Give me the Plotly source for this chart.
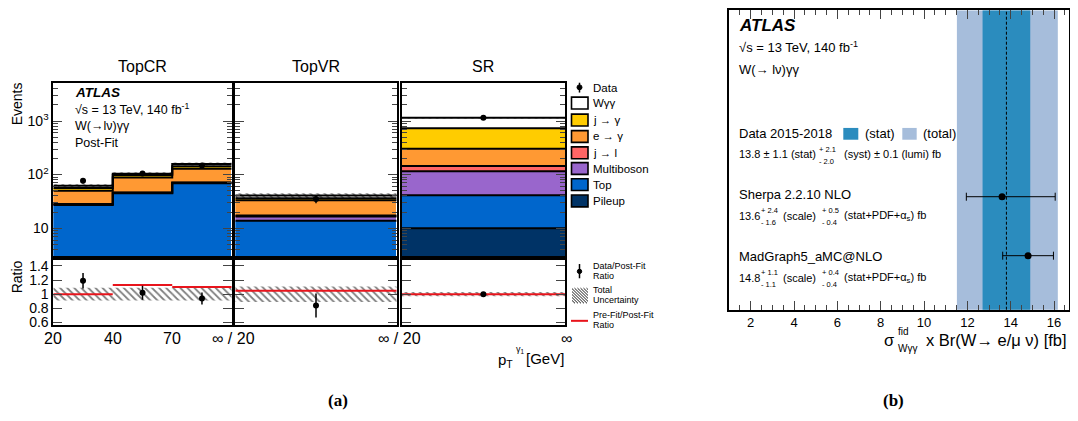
import math
import plotly.graph_objects as go

# the page body has an 8px margin on every side: map reference pixels into the figure box
OFF = 8
W, H = 1078 - 2 * OFF, 421 - 2 * OFF
def px(x): return min(1.0, max(0.0, (x - OFF) / W))
def py(y): return min(1.0, max(0.0, 1 - (y - OFF) / H))

# ---------------- data: panel (a) ----------------
region_names = ["TopCR", "TopVR", "SR"]
region_bins = [[0, 1, 2], [3], [4]]          # indices into the 5-bin arrays below
bin_labels = ["TopCR 20-40", "TopCR 40-70", "TopCR 70-inf", "TopVR 20-inf", "SR 20-inf"]

pileup     = [0.5, 0.8, 1.0, 0.5, 10.0]
top        = [26.5, 44.0, 68.0, 13.2, 31.0]
multiboson = [0.8, 1.0, 1.5, 2.8, 74.0]
j_to_l     = [0.3, 0.4, 0.5, 0.7, 30.0]
e_to_gamma = [22.0, 42.0, 58.0, 16.0, 160.0]
j_to_gamma = [6.0, 10.0, 14.0, 3.0, 430.0]
w_gg       = [6.0, 6.0, 15.0, 4.5, 415.0]
data_evts  = [77, 105, 148, 35, 1150]
main_unc   = [0.06, 0.06, 0.06, 0.10, 0.03]

ratio_data     = [1.19, 1.02, 0.94, 0.84, 1.0]
ratio_data_err = [0.11, 0.10, 0.085, 0.17, 0.02]
ratio_prefit   = [1.0, 1.13, 1.10, 1.05, 1.0]
ratio_unc      = [0.09, 0.09, 0.09, 0.11, 0.03]

stack_names = ["Pileup", "Top", "Multiboson", "j → l", "e → γ", "j → γ", "Wγγ"]
stack_vals = [pileup, top, multiboson, j_to_l, e_to_gamma, j_to_gamma, w_gg]
stack_colors = ["#003366", "#0066cc", "#9966cc", "#ff6666", "#ff9933", "#ffcc00", "#ffffff"]

edge_labels_cr = ["20", "40", "70"]

# ---------------- data: panel (b) ----------------
meas = 13.8
meas_stat = 1.1
meas_syst_up, meas_syst_dn = 2.1, 2.0
meas_lumi = 0.1
models = ["Sherpa 2.2.10 NLO", "MadGraph5_aMC@NLO"]
model_pred = [13.6, 14.8]
model_scale_up = [2.4, 1.1]
model_scale_dn = [1.6, 1.1]
model_pdf_up = [0.5, 0.4]
model_pdf_dn = [0.4, 0.4]
model_rows = [2, 1]

FONT = "Liberation Sans"
fig = go.Figure()

# domains (reference pixels)
xdoms = [(53.3, 231.7), (235.3, 396.7), (401.7, 565.0)]
main_y = (82.3, 258.3)
ratio_y = (262.3, 329.0)

HATCH_MAIN = dict(shape="\\", fgcolor="black", size=5, solidity=0.35, fillmode="overlay")
HATCH_RATIO = dict(shape="\\", fgcolor="black", size=5, solidity=0.35, fillmode="overlay")

for r, (name, idx) in enumerate(zip(region_names, region_bins)):
    xa = "x" if r == 0 else f"x{r+1}"
    ya = "y" if r == 0 else f"y{r+1}"
    xr = f"x{r+4}"
    yr = f"y{r+4}"
    n = len(idx)
    centers = [i + 0.5 for i in range(n)]
    edges = list(range(n + 1))
    cum = [0.0] * n
    for sname, vals, col in zip(stack_names, stack_vals, stack_colors):
        fig.add_trace(go.Bar(x=centers, y=[vals[i] for i in idx], width=1,
                             marker=dict(color=col, line=dict(width=0)),
                             name=sname, showlegend=False, xaxis=xa, yaxis=ya))
    # outline of each stacked layer as a step line (ROOT-like)
    for vals in stack_vals:
        cum = [c + vals[i] for c, i in zip(cum, idx)]
        fig.add_trace(go.Scatter(x=edges, y=cum + [cum[-1]], mode="lines", line_shape="hv",
                                 line=dict(color="black", width=2), showlegend=False,
                                 xaxis=xa, yaxis=ya, hoverinfo="skip"))
    # uncertainty hatch on the total
    for k, i in enumerate(idx):
        tot = sum(v[i] for v in stack_vals)
        lo, hi = tot * (1 - main_unc[i]), tot * (1 + main_unc[i])
        fig.add_trace(go.Scatter(x=[k, k + 1, k + 1, k, k], y=[lo, lo, hi, hi, lo],
                                 fill="toself", fillcolor="rgba(0,0,0,0)", mode="lines",
                                 line=dict(width=0), fillpattern=HATCH_MAIN,
                                 showlegend=False, xaxis=xa, yaxis=ya, hoverinfo="skip"))
    fig.add_trace(go.Scatter(x=centers, y=[data_evts[i] for i in idx], mode="markers",
                             marker=dict(color="black", size=6),
                             error_y=dict(type="data", array=[math.sqrt(data_evts[i]) for i in idx],
                                          color="black", thickness=1.5, width=0),
                             showlegend=False, xaxis=xa, yaxis=ya))
    # ratio panel
    for k, i in enumerate(idx):
        fig.add_trace(go.Scatter(x=[k, k + 1, k + 1, k, k],
                                 y=[1 - ratio_unc[i], 1 - ratio_unc[i], 1 + ratio_unc[i],
                                    1 + ratio_unc[i], 1 - ratio_unc[i]],
                                 fill="toself", fillcolor="rgba(0,0,0,0)", mode="lines",
                                 line=dict(width=0), fillpattern=HATCH_RATIO,
                                 showlegend=False, xaxis=xr, yaxis=yr, hoverinfo="skip"))
    rx, ry = [], []
    for k, i in enumerate(idx):
        rx += [k, k + 1, None]
        ry += [ratio_prefit[i], ratio_prefit[i], None]
    fig.add_trace(go.Scatter(x=rx, y=ry, mode="lines", line=dict(color="#e8141c", width=2),
                             showlegend=False, xaxis=xr, yaxis=yr))
    fig.add_trace(go.Scatter(x=centers, y=[ratio_data[i] for i in idx], mode="markers",
                             marker=dict(color="black", size=6),
                             error_y=dict(type="data", array=[ratio_data_err[i] for i in idx],
                                          color="black", thickness=1.5, width=0),
                             showlegend=False, xaxis=xr, yaxis=yr))

# ---------- panel (b) traces ----------
err_up = [math.hypot(a, b) for a, b in zip(model_scale_up, model_pdf_up)]
err_dn = [math.hypot(a, b) for a, b in zip(model_scale_dn, model_pdf_dn)]
fig.add_trace(go.Scatter(x=model_pred, y=model_rows, mode="markers",
                         marker=dict(color="black", size=7),
                         error_x=dict(type="data", array=err_up, arrayminus=err_dn,
                                      color="black", thickness=1, width=4),
                         showlegend=False, xaxis="x7", yaxis="y7"))

tot_up = math.sqrt(meas_stat**2 + meas_syst_up**2 + meas_lumi**2)
tot_dn = math.sqrt(meas_stat**2 + meas_syst_dn**2 + meas_lumi**2)
shapes = [
    dict(type="rect", xref="x7", yref="y7 domain", x0=meas - tot_dn, x1=meas + tot_up, y0=0, y1=1,
         fillcolor="#a6bddb", line=dict(width=0), layer="below"),
    dict(type="rect", xref="x7", yref="y7 domain", x0=meas - meas_stat, x1=meas + meas_stat, y0=0, y1=1,
         fillcolor="#2b8cbe", line=dict(width=0), layer="below"),
    dict(type="line", xref="x7", yref="y7 domain", x0=meas, x1=meas, y0=0, y1=1,
         line=dict(color="black", width=1, dash="3px,2px"), layer="below"),
]

# ---------- layout axes ----------
axis_common = dict(showline=True, linecolor="black", linewidth=1.8, mirror=True, showgrid=False,
                   zeroline=False)
layout = dict(width=W, height=H, margin=dict(l=0, r=0, t=0, b=0), plot_bgcolor="white",
              paper_bgcolor="white", barmode="stack", bargap=0, showlegend=False,
              font=dict(family=FONT, color="black"))
ranges_x = [[0, 3], [0, 1], [0, 1]]
log_minor = [m * 10 ** e for e in range(0, 4) for m in range(2, 10) if 3 <= m * 10 ** e <= 5000]
for r in range(3):
    sx = "" if r == 0 else str(r + 1)
    dom = [px(xdoms[r][0]), px(xdoms[r][1])]
    layout[f"xaxis{sx}"] = dict(axis_common, domain=dom, range=ranges_x[r], anchor=f"y{sx}",
                                showticklabels=False, ticks="")
    layout[f"yaxis{sx}"] = dict(axis_common, domain=[py(main_y[1]), py(main_y[0])], type="log",
                                range=[0.48, 3.71], anchor=f"x{sx}", mirror="allticks",
                                ticks="inside", ticklen=9, tickwidth=1.3,
                                tickvals=[10, 100, 1000],
                                ticktext=["10", "10<sup>2</sup>", "10<sup>3</sup>"],
                                showticklabels=(r == 0), tickfont=dict(size=14),
                                minor=dict(ticks="inside", ticklen=5, tickwidth=1, showgrid=False,
                                           tickmode="array", tickvals=log_minor))
    rx_ = str(r + 4)
    layout[f"xaxis{rx_}"] = dict(axis_common, domain=dom, range=ranges_x[r], anchor=f"y{rx_}",
                                 showticklabels=False, ticks="")
    layout[f"yaxis{rx_}"] = dict(axis_common, domain=[py(ratio_y[1]), py(ratio_y[0])],
                                 range=[0.559, 1.484], anchor=f"x{rx_}", mirror="allticks",
                                 ticks="inside", ticklen=9, tickwidth=1.3,
                                 tickvals=[0.6, 0.8, 1.0, 1.2, 1.4],
                                 ticktext=["0.6", "0.8", "1", "1.2", "1.4"],
                                 showticklabels=(r == 0), tickfont=dict(size=14))

# right panel geometry (reference px): value 2 at 750.7 px, 21.67 px per unit;
# rows 60 px apart with the Sherpa row at y=198 px, bottom edge at 313 px
b_left, b_right = 729, OFF + W - 1.5
b_top = OFF + 0.5
ppu = 21.67
layout["xaxis7"] = dict(axis_common, domain=[px(b_left), px(b_right)],
                        range=[2 - (750.7 - b_left) / ppu, 2 + (b_right - 750.7) / ppu], anchor="y7",
                        mirror="allticks", ticks="inside", ticklen=9, tickwidth=1.2,
                        tickvals=[2, 4, 6, 8, 10, 12, 14, 16], tickfont=dict(size=13),
                        minor=dict(ticks="inside", ticklen=5, dtick=0.5, tickwidth=1, showgrid=False))
layout["yaxis7"] = dict(axis_common, domain=[py(313), py(b_top)],
                        range=[1 - (313 - 258) / 60, 2 + (198 - b_top) / 60], anchor="x7",
                        showticklabels=False, ticks="")

# ---------- annotations ----------
ann = []
def text(x, y, s, size, anchor="left", **kw):
    ann.append(dict(x=px(x), y=py(y), xref="paper", yref="paper", text=s, showarrow=False,
                    xanchor=anchor, yanchor="middle",
                    font=dict(size=size, family=FONT, color="black"), **kw))

for r, name in enumerate(region_names):
    text((xdoms[r][0] + xdoms[r][1]) / 2, 66, name, 16, anchor="center")

text(17, 104, "Events", 14, anchor="center", textangle=-90)
text(17, 280, "Ratio", 14, anchor="center", textangle=-90)

text(73, 92, "<b><i>ATLAS</i></b>", 13.5)
text(73, 109, "√s = 13 TeV, 140 fb<sup>-1</sup>", 12.5)
text(73, 126, "W(→lν)γγ", 12.5)
text(73, 143, "Post-Fit", 12.5)

# x tick labels below ratio panels (placed at bin edges in axis units)
for k, lab in enumerate(edge_labels_cr):
    ann.append(dict(x=k, y=py(342), xref="x4", yref="paper", text=lab, showarrow=False,
                    xanchor="center", yanchor="middle", font=dict(size=16, family=FONT)))
text(233.5, 342, "∞ / 20", 16, anchor="center")
text(399, 342, "∞ / 20", 16, anchor="center")
text(566, 342, "∞", 16, anchor="center")
text(515, 365, "p<sub>T</sub>", 15, anchor="right")
text(514, 353, "γ<sub>1</sub>", 9)
text(566, 363, "[GeV]", 15, anchor="right")

# main legend
legend_rows = [("Wγγ", "#ffffff", 102.7), ("j → γ", "#ffcc00", 120.0), ("e → γ", "#ff9933", 136.7),
               ("j → l", "#ff6666", 153.3), ("Multiboson", "#9966cc", 169.3), ("Top", "#0066cc", 185.7),
               ("Pileup", "#003366", 202.3)]
for lab, col, yy in legend_rows:
    shapes.append(dict(type="rect", xref="paper", yref="paper", x0=px(571.5), x1=px(588),
                       y0=py(yy + 6), y1=py(yy - 6), fillcolor=col, line=dict(color="black", width=1.6)))
    text(591, yy, lab, 11.5)
shapes.append(dict(type="line", xref="paper", yref="paper", x0=px(579.5), x1=px(579.5),
                   y0=py(92), y1=py(82), line=dict(color="black", width=1.5)))
shapes.append(dict(type="circle", xref="paper", yref="paper", x0=px(577), x1=px(582),
                   y0=py(89.2), y1=py(84.2), fillcolor="black", line=dict(color="black", width=1)))
text(591, 87, "Data", 11.5)

# ratio legend
shapes.append(dict(type="line", xref="paper", yref="paper", x0=px(579.5), x1=px(579.5),
                   y0=py(281), y1=py(266.5), line=dict(color="black", width=1.5)))
shapes.append(dict(type="circle", xref="paper", yref="paper", x0=px(577.3), x1=px(581.7),
                   y0=py(276.2), y1=py(271.8), fillcolor="black", line=dict(color="black", width=1)))
text(591, 269, "Data/Post-Fit", 9)
text(591, 279, "Ratio", 9)
hx0, hx1, hy0, hy1 = 572, 588, 291, 306.5
d = -(hy1 - hy0)
while d < (hx1 - hx0):
    xs, ys = hx0 + d, hy0
    xe, ye = hx0 + d + (hy1 - hy0), hy1
    if xs < hx0:
        ys += hx0 - xs; xs = hx0
    if xe > hx1:
        ye -= xe - hx1; xe = hx1
    if xe > xs:
        shapes.append(dict(type="line", xref="paper", yref="paper", x0=px(xs), x1=px(xe),
                           y0=py(ys), y1=py(ye), line=dict(color="black", width=0.9)))
    d += 3
text(591, 292.7, "Total", 9)
text(591, 303.3, "Uncertainty", 9)
shapes.append(dict(type="line", xref="paper", yref="paper", x0=px(571), x1=px(588),
                   y0=py(324.3), y1=py(324.3), line=dict(color="#e8141c", width=2)))
text(591, 318.8, "Pre-Fit/Post-Fit", 9)
text(591, 329, "Ratio", 9)

# ---- panel (b) text ----
text(737, 24, "<b><i>ATLAS</i></b>", 17)
text(737, 46, "√s = 13 TeV, 140 fb<sup>-1</sup>", 13)
text(737, 69, "W(→ lν)γγ", 13)
text(737, 133.5, "Data 2015-2018", 13)
shapes.append(dict(type="rect", xref="paper", yref="paper", x0=px(843.3), x1=px(858.3),
                   y0=py(140), y1=py(128), fillcolor="#2b8cbe", line=dict(width=0)))
text(862.5, 133.5, "(stat)", 13)
shapes.append(dict(type="rect", xref="paper", yref="paper", x0=px(902.3), x1=px(916.7),
                   y0=py(140), y1=py(128), fillcolor="#a6bddb", line=dict(width=0)))
text(921, 133.5, "(total)", 13)

def value_line(y, pieces):
    for x, s, kind in pieces:
        if kind == "main":
            text(x, y, s, 11)
        elif kind == "sup":
            text(x, y - 5, s, 7.5)
        else:
            text(x, y + 7, s, 7.5)

value_line(155, [(737, f"{meas} ± {meas_stat} (stat)", "main"),
                 (817, f"+ {meas_syst_up}", "sup"), (817, f"- {meas_syst_dn}", "sub"),
                 (842, f"(syst) ± {meas_lumi} (lumi) fb", "main")])
for name, yy, p, su, sd, pu, pdn in zip(models, [196, 259], model_pred, model_scale_up,
                                        model_scale_dn, model_pdf_up, model_pdf_dn):
    text(737, yy, name, 13)
    value_line(yy + 21.5, [(737, f"{p}", "main"),
                           (759, f"+ {su}", "sup"), (759, f"- {sd}", "sub"),
                           (781, "(scale)", "main"),
                           (820, f"+ {pu}", "sup"), (820, f"- {pdn}", "sub"),
                           (842, "(stat+PDF+α<sub>s</sub>) fb", "main")])

# axis title (b)
text(b_right, 344, "x Br(W→ e/μ ν) [fb]", 16.5, anchor="right")
text(896, 344, "σ", 16.5, anchor="right")
text(895.5, 335.5, "fid", 10)
text(895.5, 352, "Wγγ", 10)

# captions
ann.append(dict(x=px(338), y=py(405), xref="paper", yref="paper", text="<b>(a)</b>", showarrow=False,
                xanchor="center", yanchor="middle", font=dict(size=17, family="Liberation Serif")))
ann.append(dict(x=px(893), y=py(405), xref="paper", yref="paper", text="<b>(b)</b>", showarrow=False,
                xanchor="center", yanchor="middle", font=dict(size=17, family="Liberation Serif")))

layout["annotations"] = ann
layout["shapes"] = shapes
fig.update_layout(**layout)
fig.write_html("out.html")
